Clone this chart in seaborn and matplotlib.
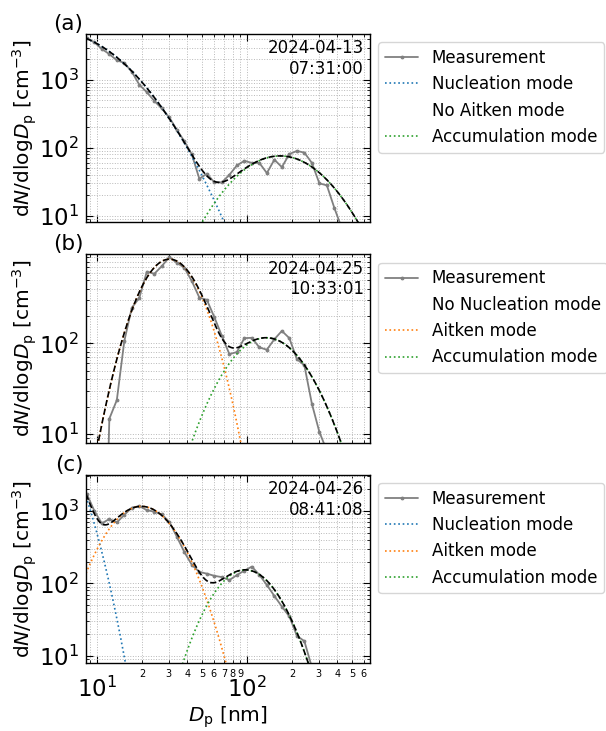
import numpy as np
import pandas as pd
import matplotlib
matplotlib.use("Agg")
import matplotlib.pyplot as plt
import seaborn as sns
from matplotlib.lines import Line2D
from matplotlib.ticker import LogLocator, FuncFormatter, NullFormatter

sns.set_style("ticks")
plt.rcParams['font.family'] = ['DejaVu Sans']
plt.rcParams['mathtext.fontset'] = 'dejavusans'
for key in ['text.color', 'axes.labelcolor', 'xtick.color', 'ytick.color', 'axes.edgecolor']:
    plt.rcParams[key] = 'black'

# ---------------- data ----------------
diameters_nm = [8.55, 9.59, 10.76, 12.08, 13.55, 15.20, 17.06, 19.14, 21.48, 24.10,
                27.04, 30.34, 34.04, 38.19, 42.85, 48.08, 53.95, 60.53, 67.92, 76.21,
                85.51, 95.94, 107.6, 120.8, 135.5, 152.1, 170.6, 191.4, 214.8, 241.0,
                270.4, 303.4, 340.4, 381.9, 428.5]

meas_a = [4100, 3600, 2860, 2400, 1950, 1780, 1320, 850, 660, 490,
          380, 280, 184, 125, 80, 35, 41.6, 31, 31, 40,
          55, 64.5, 60, 60, 42.5, 67, 52, 81, 90, 85,
          60, 30, 28, 13, 6.5]

meas_b = [None, None, 0.01, 14.7, 23.6, 106, 247, 318, 618, 586,
          712, 894, 774, 683, 486, 320, 302, 194, 121, 76,
          80, 114, 115, 90, 85, 111, 137, 114, 67, 57,
          21.5, 10.5, 6.5, None, None]

meas_c = [1700, 1000, 670, 770, 690, 880, 1100, 1160, 1020, 970,
          890, 700, 440, 270, 180, 144, 136, 127, 122, 111,
          130, 150, 170, 131, 95, 67, 48, 35, 19, 16,
          7, None, None, None, None]

panel_letters = ['(a)', '(b)', '(c)']
timestamps = ['2024-04-13\n07:31:00', '2024-04-25\n10:33:01', '2024-04-26\n08:41:08']

# fitted lognormal modes: (N [cm-3], Dg [nm], sigma_g); None = mode absent
nucleation_modes = [(4010, 5.25, 2.06), None, (6140, 3.98, 1.416)]
aitken_modes = [None, (331, 30.4, 1.431), (516, 19.75, 1.51)]
accumulation_modes = [(46.7, 166.0, 1.758), (62.3, 134.3, 1.644), (66.0, 97.7, 1.486)]

ylims = [(8, 4750), (8, 960), (8, 3140)]
xlim = (8.45, 660)

mode_names = ['Nucleation mode', 'Aitken mode', 'Accumulation mode']
mode_colors = ['tab:blue', 'tab:orange', 'tab:green']


def lognormal(dp, N, dg, sg):
    ls = np.log10(sg)
    return N / (np.sqrt(2 * np.pi) * ls) * np.exp(-(np.log10(dp) - np.log10(dg)) ** 2 / (2 * ls ** 2))


fig, axes = plt.subplots(3, 1, figsize=(6.06, 7.31), dpi=100, sharex=True)
fig.subplots_adjust(left=0.142, right=0.6106, top=0.9535, bottom=0.093, hspace=0.17)

dp_fine = np.logspace(np.log10(xlim[0]), np.log10(xlim[1]), 500)

for i, ax in enumerate(axes):
    ax.set_xscale('log')
    ax.set_yscale('log')
    meas = [meas_a, meas_b, meas_c][i]
    df = pd.DataFrame({'Dp': diameters_nm, 'N': meas}).dropna()
    sns.lineplot(data=df, x='Dp', y='N', ax=ax, color='0.5', linewidth=1.3,
                 marker='.', markersize=4, markeredgecolor='0.5', markerfacecolor='0.5',
                 label='Measurement', sort=False)
    handles = [ax.lines[-1]]
    labels = ['Measurement']
    total = np.zeros_like(dp_fine)
    for j, modes in enumerate([nucleation_modes, aitken_modes, accumulation_modes]):
        m = modes[i]
        if m is None:
            handles.append(Line2D([], [], linestyle='none'))
            labels.append('No ' + mode_names[j])
            continue
        y = lognormal(dp_fine, *m)
        total += y
        yp = np.where(y > 1e-3, y, np.nan)
        dfm = pd.DataFrame({'Dp': dp_fine, 'N': yp}).dropna()
        sns.lineplot(data=dfm, x='Dp', y='N', ax=ax, color=mode_colors[j], linestyle=':',
                     linewidth=1.2, label=mode_names[j], sort=False)
        handles.append(ax.lines[-1])
        labels.append(mode_names[j])
    dft = pd.DataFrame({'Dp': dp_fine, 'N': total})
    sns.lineplot(data=dft, x='Dp', y='N', ax=ax, color='k', linestyle='--', linewidth=1.2,
                 sort=False, legend=False)

    ax.set_xlim(*xlim)
    ax.set_ylim(*ylims[i])
    ax.grid(True, which='both', linestyle=':', color='0.72', linewidth=0.7)
    ax.set_axisbelow(True)
    ax.xaxis.set_minor_locator(LogLocator(base=10, subs=np.arange(2, 10), numticks=50))
    ax.yaxis.set_minor_locator(LogLocator(base=10, subs=np.arange(2, 10), numticks=50))
    ax.yaxis.set_minor_formatter(NullFormatter())
    ax.tick_params(which='both', direction='in', top=True, right=True)
    ax.tick_params(which='major', length=5, width=0.8)
    ax.tick_params(which='minor', length=2.5, width=0.6)
    ax.tick_params(axis='y', which='major', labelsize=16.5, pad=5)
    for sp in ax.spines.values():
        sp.set_linewidth(1.0)
        sp.set_color('black')

    ax.set_ylabel(r'd$N$/dlog$D_\mathrm{p}$ [cm$^{-3}$]', fontsize=14.5)
    ax.yaxis.set_label_coords(-0.165, 0.5)
    ax.set_xlabel('')

    ax.text(0.978, 0.972, timestamps[i], transform=ax.transAxes, ha='right', va='top',
            fontsize=12, multialignment='right')
    ax.text(-0.01, 1.0, panel_letters[i], transform=ax.transAxes, ha='right', va='bottom',
            fontsize=15.5)

    leg = ax.legend(handles, labels, loc='upper left', bbox_to_anchor=(1.0, 1.0), fontsize=12,
                    frameon=True)

    if i < 2:
        ax.tick_params(axis='x', which='both', labelbottom=False)


def minor_fmt(x, pos):
    if x < 10:
        return ''
    d = x / 10 ** np.floor(np.log10(x) + 1e-9)
    return f'{int(round(d))}'


axb = axes[-1]
axb.xaxis.set_minor_formatter(FuncFormatter(minor_fmt))
axb.tick_params(axis='x', which='major', labelsize=16.5, pad=10, labelbottom=True)
axb.tick_params(axis='x', which='minor', labelsize=7, pad=4, labelbottom=True)
axb.set_xlabel(r'$D_\mathrm{p}$ [nm]', fontsize=14.5, labelpad=2)

fig.savefig('out.png', dpi=100)
